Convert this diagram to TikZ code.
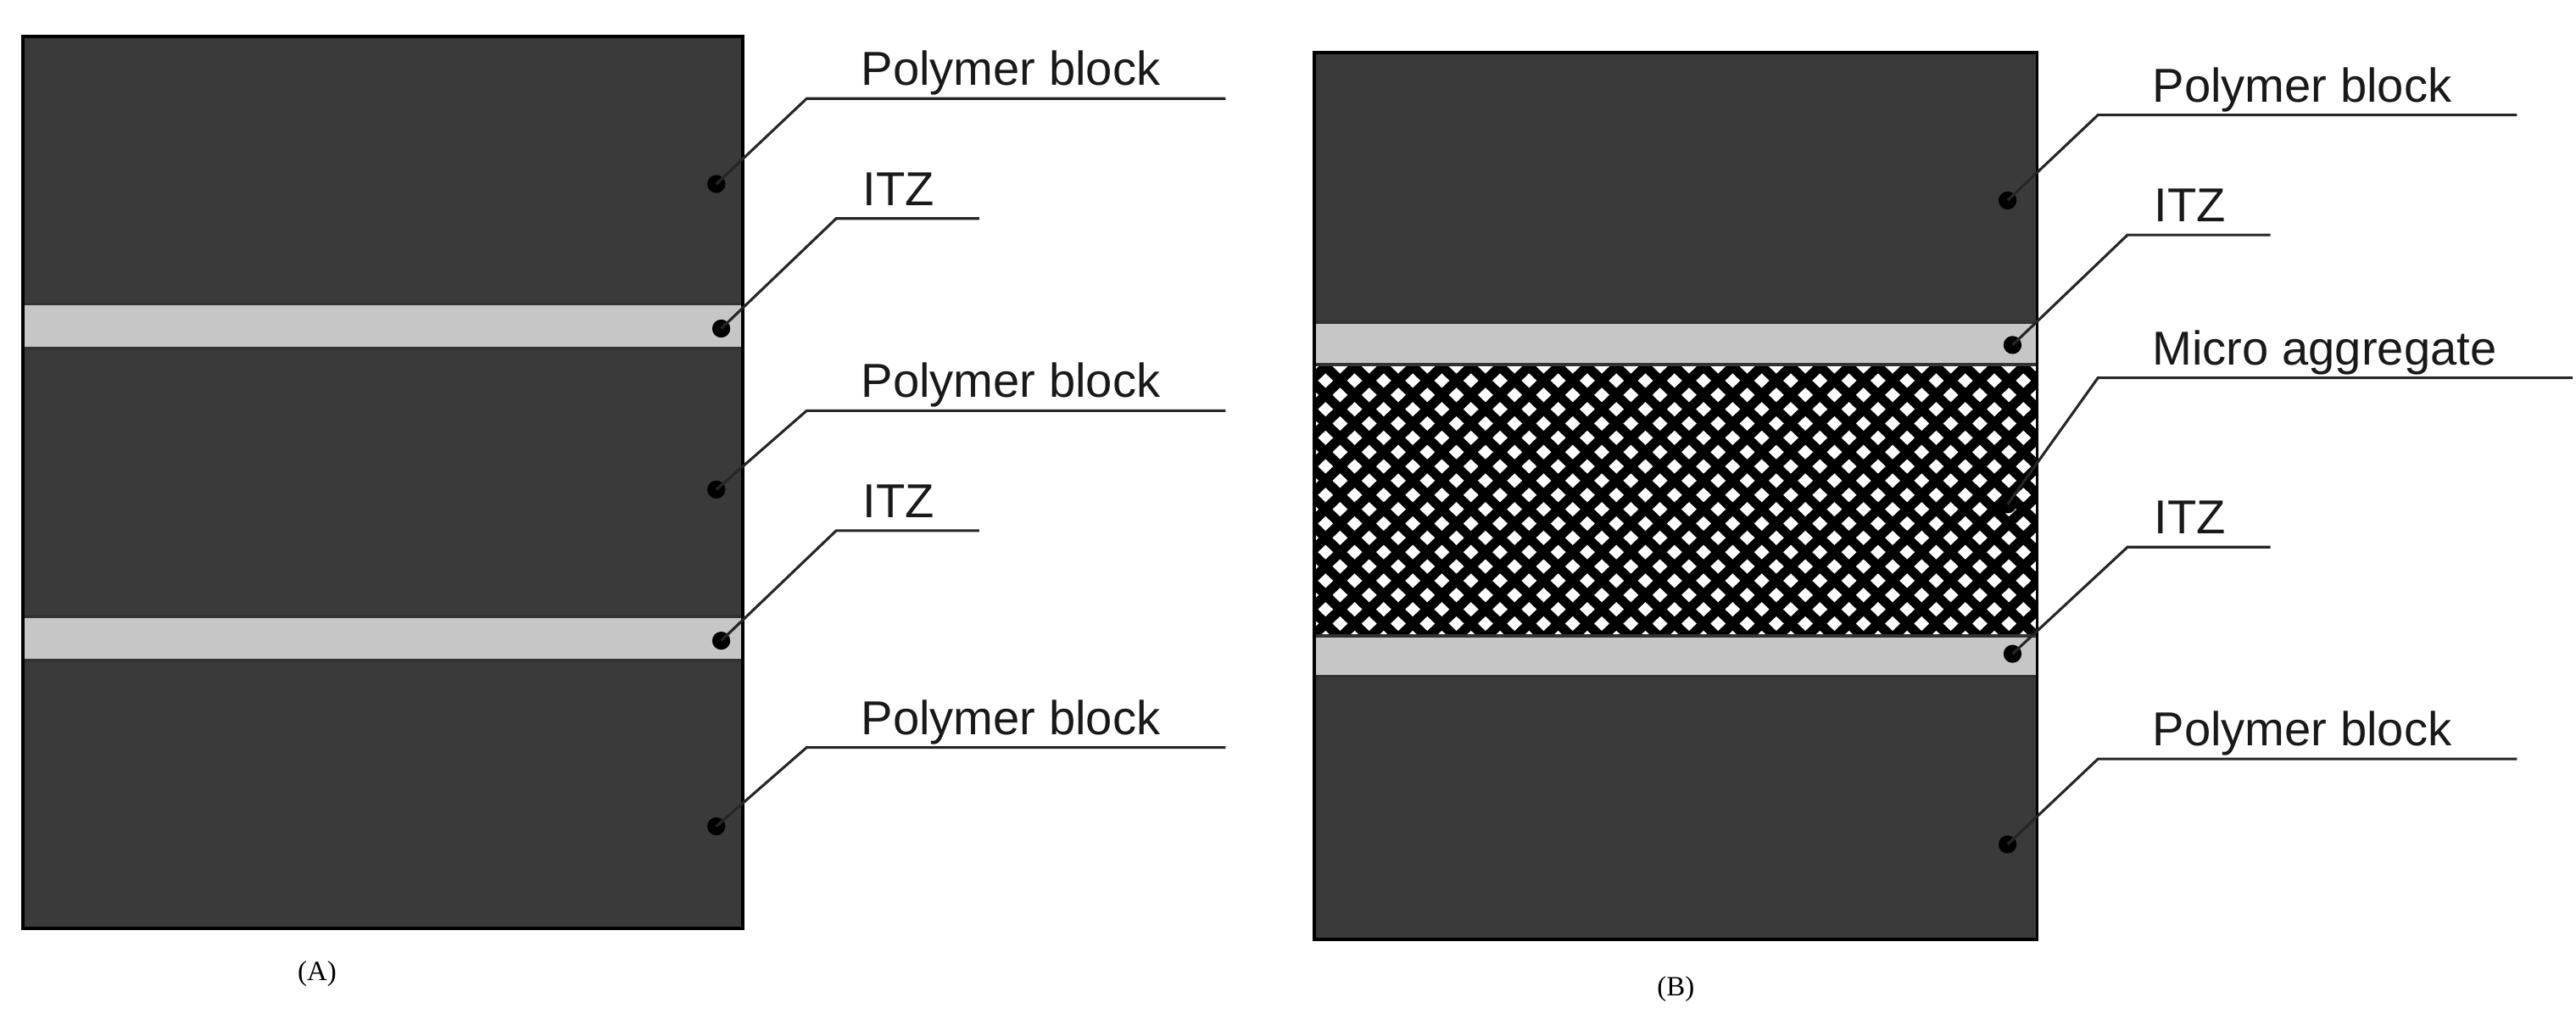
\documentclass[tikz,border=0pt]{standalone}
\usepackage{fontspec}
\setmainfont{Liberation Sans}
\newfontfamily\serifA{Liberation Serif}
\definecolor{blk}{HTML}{3A3A3A}
\definecolor{itz}{HTML}{C6C6C6}
\tikzset{
  block/.style={fill=blk,draw=black,line width=2},
  itzband/.style={fill=itz,draw=black!80,line width=2},
  leader/.style={line width=1.6,black!85},
  lbl/.style={anchor=base west,inner sep=0,font=\fontsize{29}{32}\selectfont,text=black!90},
  dotc/.style={circle,fill=black,inner sep=0,minimum size=11},
  captxt/.style={font=\serifA\fontsize{17}{20}\selectfont}
}
\newcommand{\leadline}[7]{%
  \node[dotc] (d#1) at (#2) {};
  \coordinate (e#1) at (#3,#4);
  \coordinate (f#1) at (#5,#4);
  \draw[leader] (d#1.center) -- (e#1) -- (f#1);
  \node[lbl] (t#1) at (#7,#4-8) {#6};}
\begin{document}
\begin{tikzpicture}[x=1pt,y=-1pt]
\useasboundingbox (0,0) rectangle (1568,627.6);
% Panel A
\draw[block] (14,22) rectangle (452,565);
\draw[itzband] (14,185) rectangle (452,212);
\draw[itzband] (14,375) rectangle (452,402);
\draw[black,line width=2] (14,22) rectangle (452,565);
\leadline{a1}{436,112}{491}{60}{746}{Polymer block}{524}
\leadline{a2}{439,200}{509}{133}{596}{ITZ}{525}
\leadline{a3}{436,298}{491}{250}{746}{Polymer block}{524}
\leadline{a4}{439,390}{509}{323}{596}{ITZ}{525}
\leadline{a5}{436,503}{491}{455}{746}{Polymer block}{524}
\node[captxt] (capA) at (193,593) {(A)};
% Panel B
\draw[block] (800,32) rectangle (1240,572);
\begin{scope}
\clip (800,222) rectangle (1240,387);
\fill[black] (800,222) rectangle (1240,387);
\foreach \r in {0,...,20}{
  \foreach \c in {0,...,26}{
    \pgfmathsetmacro{\xx}{798+\c*17.7+mod(\r,2)*8.85}
    \pgfmathsetmacro{\yy}{223+\r*8.7}
    \fill[white] (\xx-4.6,\yy) -- (\xx,\yy-4.4) -- (\xx+4.6,\yy) -- (\xx,\yy+4.4) -- cycle;
  }}
\end{scope}
\draw[itzband] (800,196) rectangle (1240,222);
\draw[itzband] (800,387) rectangle (1240,412);
\draw[black,line width=2] (800,32) rectangle (1240,572);
\leadline{b1}{1222,122}{1277}{70}{1532}{Polymer block}{1310}
\leadline{b2}{1225,210}{1295}{143}{1382}{ITZ}{1311}
\leadline{b3}{1222,307}{1277}{230}{1566}{Micro aggregate}{1310}
\leadline{b4}{1225,398}{1295}{333}{1382}{ITZ}{1311}
\leadline{b5}{1222,514}{1277}{462}{1532}{Polymer block}{1310}
\node[captxt] (capB) at (1020,602) {(B)};
\end{tikzpicture}
\end{document}
